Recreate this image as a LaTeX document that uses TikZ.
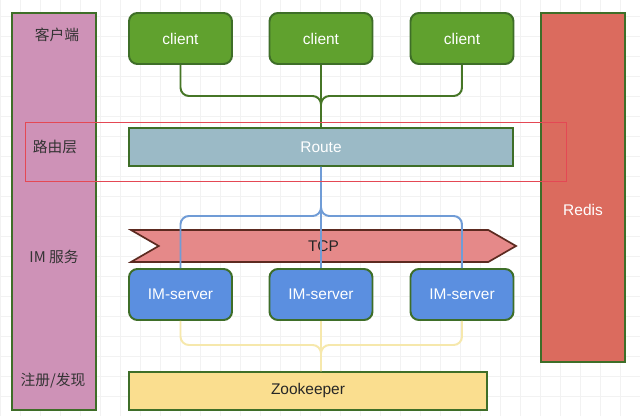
\documentclass[tikz,border=0pt]{standalone}
\usepackage{fontspec}
\setmainfont{Liberation Sans}
\newfontfamily\cjkfont{Noto Sans CJK SC}
\usepackage{tikz}
\usetikzlibrary{arrows.meta,calc,positioning,shapes.symbols}

\definecolor{edgegreen}{RGB}{62,110,40}
\definecolor{colpink}{RGB}{206,146,183}
\definecolor{clientgreen}{RGB}{96,161,46}
\definecolor{wiregreen}{RGB}{70,118,38}
\definecolor{routeblue}{RGB}{155,186,198}
\definecolor{markred}{RGB}{228,72,84}
\definecolor{redisred}{RGB}{219,107,94}
\definecolor{tcpfill}{RGB}{229,137,137}
\definecolor{tcpedge}{RGB}{92,42,32}
\definecolor{wireblue}{RGB}{112,156,214}
\definecolor{serverblue}{RGB}{91,143,224}
\definecolor{wireyellow}{RGB}{246,232,172}
\definecolor{zkyellow}{RGB}{250,222,143}

\tikzset{
  layercol/.style={
    rectangle, draw=edgegreen, line width=1.4pt, fill=colpink,
    minimum width=2.1cm, minimum height=9.925cm, inner sep=0pt
  },
  layerlabel/.style={font=\cjkfont\fontsize{10.5}{12}\selectfont, text=black!80, inner sep=1pt},
  boxnode/.style={
    rectangle, rounded corners=6pt,
    draw=edgegreen, line width=1.4pt,
    minimum width=2.575cm, minimum height=1.275cm,
    font=\fontsize{11}{13}\selectfont, text=white, inner sep=1pt
  },
  clientnode/.style={boxnode, fill=clientgreen},
  servernode/.style={boxnode, fill=serverblue},
  barnode/.style={
    rectangle, draw=edgegreen, line width=1.4pt,
    minimum height=0.95cm, inner sep=1pt,
    font=\fontsize{11}{13}\selectfont
  },
  tcpnode/.style={
    signal, signal to=east, signal from=west, signal pointer angle=60,
    draw=tcpedge, line width=1.2pt, fill=tcpfill,
    minimum width=9.625cm, minimum height=0.8cm, inner sep=0pt,
    font=\fontsize{11}{13}\selectfont, text=black!85
  },
  clientwire/.style={draw=wiregreen, line width=1.4pt, rounded corners=6pt},
  serverwire/.style={draw=wireblue, line width=1.4pt, rounded corners=6pt},
  zkwire/.style={draw=wireyellow, line width=1.4pt, rounded corners=6pt},
  highlight/.style={draw=markred, line width=0.7pt}
}

\begin{document}
\begin{tikzpicture}
  \useasboundingbox (0,0) rectangle (16,10.4);
  \fill[white] (0,0) rectangle (16,10.4);
  \draw[black!5, line width=0.4pt, step=0.5] (0,0) grid (16,10.4);

  % ==== LEFT COLUMN: layer names ====
  \node[layercol] (layers) at (1.35,5.1125) {};
  \node[layerlabel] (lclient) at (1.425,9.525) {客户端};
  \node[layerlabel] (lroute)  at (1.375,6.725) {路由层};
  \node[layerlabel] (lim)     at (1.35,3.975)  {IM 服务};
  \node[layerlabel] (lreg)    at (1.325,0.875) {注册/发现};

  % ==== CLIENTS ====
  \node[clientnode] (c1) at (4.5125,9.4375) {client};
  \node[clientnode] (c2) at (8.025,9.4375)  {client};
  \node[clientnode] (c3) at (11.55,9.4375)  {client};

  % ==== ROUTE ====
  \node[barnode, fill=routeblue, text=white, minimum width=9.6cm] (route) at (8.025,6.725) {Route};

  % ==== REDIS ====
  \node[rectangle, draw=edgegreen, line width=1.4pt, fill=redisred,
        minimum width=2.1cm, minimum height=8.725cm, inner sep=0pt,
        label={[text=white, font=\fontsize{11}{13}\selectfont, yshift=-0.56cm]center:Redis}]
        (redis) at (14.575,5.7125) {};

  % ==== TCP + IM SERVERS ====
  \node[tcpnode] (tcp) at (8.0875,4.25) {TCP};
  \node[servernode] (s1) at (4.5125,3.0375) {IM-server};
  \node[servernode] (s2) at (8.025,3.0375)  {IM-server};
  \node[servernode] (s3) at (11.55,3.0375)  {IM-server};

  % ==== ZOOKEEPER ====
  \node[barnode, fill=zkyellow, text=black!85, minimum width=8.95cm] (zk) at (7.7,0.625) {Zookeeper};

  % ==== WIRES ====
  \coordinate (cjoin) at (8.025,8.0);
  \draw[clientwire] (c1.south) |- (cjoin) -- (route.north);
  \draw[clientwire] (c3.south) |- (cjoin) -- (route.north);
  \draw[clientwire] (c2.south) -- (route.north);

  \coordinate (sjoin) at (8.025,5.0);
  \draw[serverwire] (route.south) -- (sjoin) -| (s1.north);
  \draw[serverwire] (route.south) -- (sjoin) -| (s3.north);
  \draw[serverwire] (route.south) -- (s2.north);

  \coordinate (zjoin) at (8.025,1.775);
  \draw[zkwire] (s1.south) |- (zjoin) -- (zjoin |- zk.north);
  \draw[zkwire] (s3.south) |- (zjoin) -- (zjoin |- zk.north);
  \draw[zkwire] (s2.south) -- (s2.south |- zk.north);

  % ==== routing layer mark, on top ====
  \draw[highlight] (0.625,5.875) rectangle (14.15,7.35);
\end{tikzpicture}
\end{document}
